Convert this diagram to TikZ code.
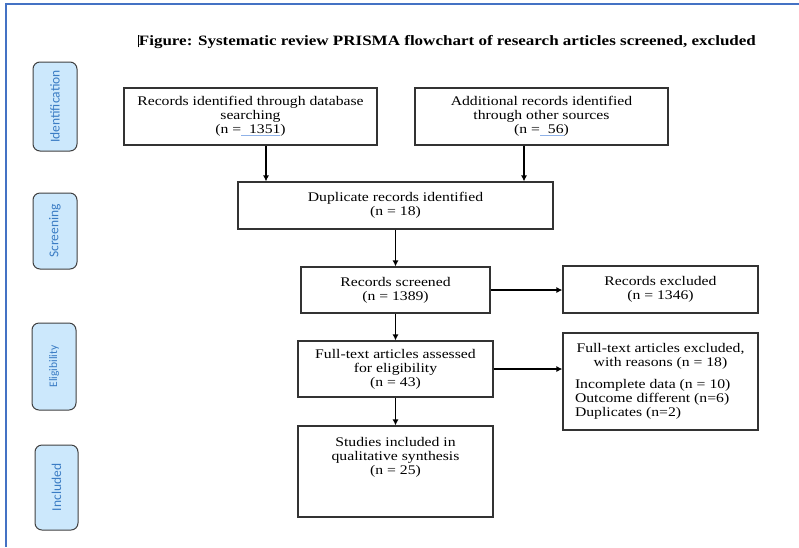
\documentclass[tikz,border=0pt]{standalone}
\usepackage{fontspec}
\setmainfont{Liberation Serif}[FakeStretch=1.19]
\newfontfamily\stagefont{Carlito}
\usetikzlibrary{arrows.meta}
\definecolor{frameblue}{HTML}{4472C4}
\definecolor{stagefill}{HTML}{CCE8FC}
\definecolor{stagetext}{HTML}{3A7CC4}
\definecolor{linkblue}{HTML}{8FB2E8}
\newcommand{\linkul}[1]{\textcolor{linkblue}{\underline{\textcolor{black}{#1}}}}

\begin{document}
\begin{tikzpicture}[x=1pt, y=-1pt]
    \tikzset{box/.style={draw=black!80, line width=1.1pt, align=center, inner sep=0pt, font=\fontsize{13.2}{14}\selectfont}}
    \tikzset{stage/.style={draw=black!75, line width=1pt, fill=stagefill, rounded corners=7pt, rotate=90, minimum height=44, inner sep=0pt, text=stagetext, font=\stagefont\fontsize{13.5}{14}\selectfont}}
    \tikzset{arr/.style={-{Latex[length=6pt,width=6pt]}, line width=1.2pt}}

    \useasboundingbox (0,0) rectangle (799,547);
    \draw[frameblue, line width=1.5pt] (799,4) -- (6,4) -- (6,547);

    \node[font=\fontsize{14.3}{14}\selectfont\bfseries] (title) at (447,42) {\rule[-2pt]{0.8pt}{12pt}Figure: Systematic review PRISMA flowchart of research articles screened, excluded};

    \node[stage, minimum width=89] (lident) at (55,106.5) {Identification};
    \node[stage, minimum width=76] (lscreen) at (55,231) {Screening};
    \node[stage, minimum width=87, font=\stagefont\fontsize{11.5}{12}\selectfont] (lelig) at (54,366.5) {Eligibility};
    \node[stage, minimum width=85, minimum height=43] (lincl) at (56.5,487.5) {Included};

    \node[box, minimum width=253, minimum height=57] (records) at (250.5,116.5) {Records identified through database\\ searching\\ (n =\linkul{\ \ 1351})};
    \node[box, minimum width=253, minimum height=57] (other) at (541.5,116.5) {Additional records identified\\ through other sources\\ (n =\linkul{\ \ 56})};
    \node[box, minimum width=315, minimum height=47] (dupl) at (395.5,205.5) {Duplicate records identified\\ (n = 18)};
    \node[box, minimum width=189, minimum height=46] (screened) at (395.5,290) {Records screened\\ (n = 1389)};
    \node[box, minimum width=195, minimum height=47] (excluded) at (660.5,289.5) {Records excluded\\ (n = 1346)};
    \node[box, minimum width=195, minimum height=56] (assessed) at (395.5,369) {Full-text articles assessed\\ for eligibility\\ (n = 43)};
    \node[box, minimum width=195, minimum height=97] (exclft) at (660.5,381.5) {\parbox{171pt}{\centering Full-text articles excluded,\\ with reasons (n = 18)\par\vspace{8pt}\raggedright Incomplete data (n = 10)\\ Outcome different (n=6)\\ Duplicates (n=2)}};
    \node[box, minimum width=195, text height=48, text depth=43] (studies) at (395.5,471.5) {Studies included in\\ qualitative synthesis\\ (n = 25)};

    \draw[arr] ([xshift=15.5pt]records.south) -- ([xshift=15.5pt]records.south |- dupl.north);
    \draw[arr] ([xshift=-17.5pt]other.south) -- ([xshift=-17.5pt]other.south |- dupl.north);
    \draw[arr] (dupl.south) -- (screened.north);
    \draw[arr] (screened.east) -- (screened.east -| excluded.west);
    \draw[arr] (screened.south) -- (assessed.north);
    \draw[arr] (assessed.east) -- (assessed.east -| exclft.west);
    \draw[arr] (assessed.south) -- (studies.north);
\end{tikzpicture}
\end{document}
